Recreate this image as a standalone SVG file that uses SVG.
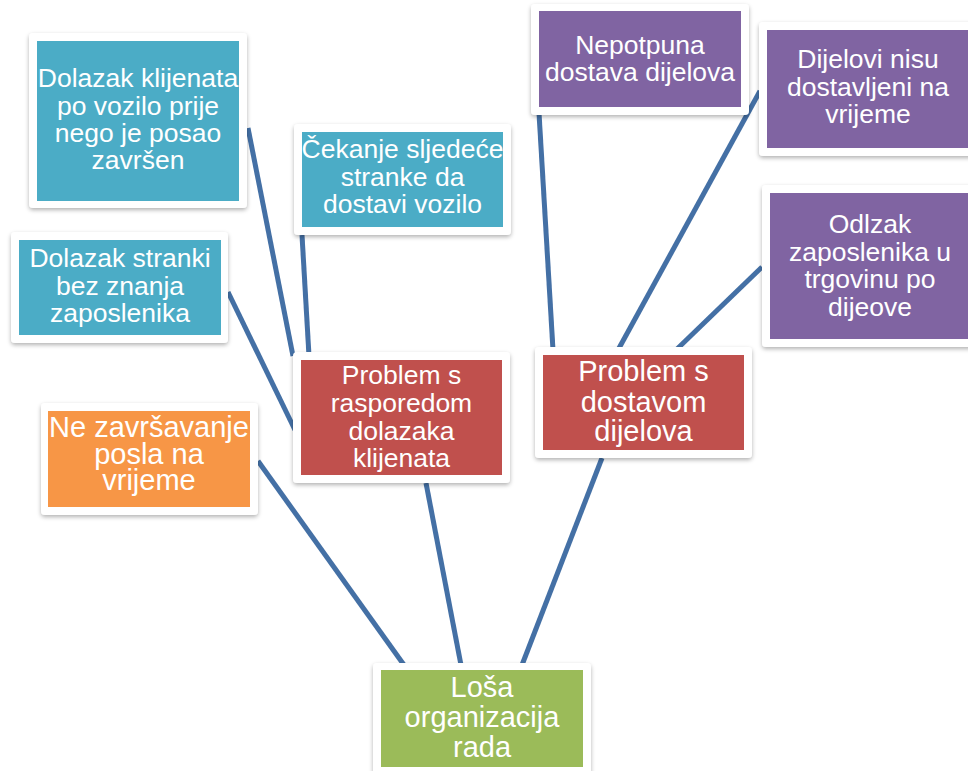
<svg xmlns="http://www.w3.org/2000/svg" width="968" height="771" viewBox="0 0 968 771">
<defs>
<filter id="sh" x="-10%" y="-10%" width="120%" height="125%">
<feDropShadow dx="0" dy="2" stdDeviation="2" flood-color="#000" flood-opacity="0.3"/>
</filter>
<style>
.card{fill:#fff;filter:url(#sh)}
.teal{fill:#4BACC6}
.purple{fill:#8064A2}
.red{fill:#C0504D}
.orange{fill:#F79646}
.green{fill:#9BBB59}
text{font-family:"Liberation Sans",Arial,sans-serif;fill:#fff;text-anchor:middle}
.s{font-size:26.5px}
.b{font-size:29px}
.conn line{stroke:#4470A5;stroke-width:5;stroke-linecap:butt}
</style>
</defs>
<rect width="968" height="771" fill="#fff"/>
<g class="conn" id="connectors">
<line x1="258" y1="461" x2="404" y2="665"/>
<line x1="426" y1="483" x2="461" y2="665"/>
<line x1="602" y1="458" x2="522" y2="665"/>
<line x1="248" y1="128" x2="293" y2="356"/>
<line x1="302" y1="235" x2="309" y2="356"/>
<line x1="228" y1="292" x2="295" y2="430"/>
<line x1="539" y1="113" x2="553" y2="350"/>
<line x1="760" y1="91" x2="618" y2="350"/>
<line x1="762" y1="267" x2="676" y2="350"/>
</g>
<g id="n1">
<rect class="card" x="29" y="33" width="218" height="175" rx="4"/>
<rect class="teal" x="37" y="41" width="202" height="160"/>
<text class="s"><tspan x="138" y="87">Dolazak klijenata</tspan><tspan x="138" y="114.5">po vozilo prije</tspan><tspan x="138" y="142">nego je posao</tspan><tspan x="138" y="169">završen</tspan></text>
</g>
<g id="n2">
<rect class="card" x="294" y="124" width="217" height="111" rx="4"/>
<rect class="teal" x="302" y="132" width="201" height="95"/>
<text class="s"><tspan x="402.5" y="157.5">Čekanje sljedeće</tspan><tspan x="402.5" y="185.5">stranke da</tspan><tspan x="402.5" y="213">dostavi vozilo</tspan></text>
</g>
<g id="n3">
<rect class="card" x="531" y="4" width="218" height="111" rx="4"/>
<rect class="purple" x="539" y="11" width="202" height="96"/>
<text class="s"><tspan x="640" y="54">Nepotpuna</tspan><tspan x="640" y="81">dostava dijelova</tspan></text>
</g>
<g id="n4">
<rect class="card" x="759" y="22" width="218" height="134" rx="4"/>
<rect class="purple" x="767" y="30" width="202" height="118"/>
<text class="s"><tspan x="868" y="68">Dijelovi nisu</tspan><tspan x="868" y="96">dostavljeni na</tspan><tspan x="868" y="123">vrijeme</tspan></text>
</g>
<g id="n5">
<rect class="card" x="762" y="185" width="218" height="162" rx="4"/>
<rect class="purple" x="770" y="193" width="202" height="146"/>
<text class="s"><tspan x="870" y="233">Odlzak</tspan><tspan x="870" y="260.5">zaposlenika u</tspan><tspan x="870" y="288">trgovinu po</tspan><tspan x="870" y="315.5">dijeove</tspan></text>
</g>
<g id="n6">
<rect class="card" x="535" y="347" width="217" height="111" rx="4"/>
<rect class="red" x="543" y="355" width="201" height="95"/>
<text class="b"><tspan x="643.5" y="381">Problem s</tspan><tspan x="643.5" y="411.5">dostavom</tspan><tspan x="643.5" y="441">dijelova</tspan></text>
</g>
<g id="n7">
<rect class="card" x="293" y="352" width="217" height="131" rx="4"/>
<rect class="red" x="301" y="360" width="201" height="115"/>
<text class="s"><tspan x="401.5" y="384">Problem s</tspan><tspan x="401.5" y="412">rasporedom</tspan><tspan x="401.5" y="439.5">dolazaka</tspan><tspan x="401.5" y="467">klijenata</tspan></text>
</g>
<g id="n8">
<rect class="card" x="11" y="232" width="217" height="111" rx="4"/>
<rect class="teal" x="19" y="240" width="202" height="95"/>
<text class="s"><tspan x="120" y="267">Dolazak stranki</tspan><tspan x="120" y="295">bez znanja</tspan><tspan x="120" y="322">zaposlenika</tspan></text>
</g>
<g id="n9">
<rect class="card" x="41" y="403" width="217" height="112" rx="4"/>
<rect class="orange" x="48" y="411" width="202" height="96"/>
<text class="b"><tspan x="149" y="437">Ne završavanje</tspan><tspan x="149" y="463.5">posla na</tspan><tspan x="149" y="490">vrijeme</tspan></text>
</g>
<g id="n10">
<rect class="card" x="373" y="663" width="218" height="112" rx="4"/>
<rect class="green" x="381" y="670" width="202" height="97"/>
<text class="b"><tspan x="482" y="697">Loša</tspan><tspan x="482" y="726.5">organizacija</tspan><tspan x="482" y="757">rada</tspan></text>
</g>
</svg>
